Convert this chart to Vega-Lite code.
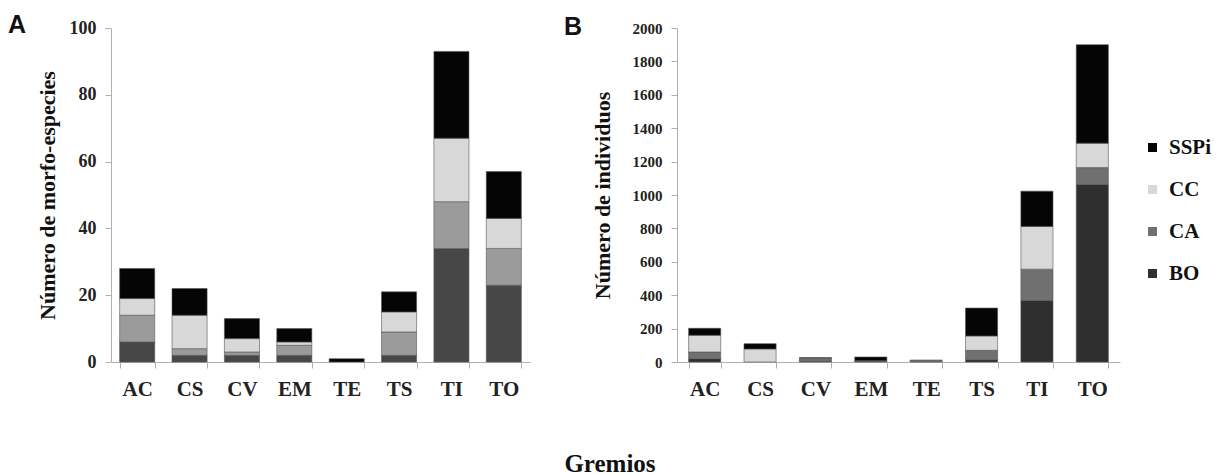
{
  "$schema": "https://vega.github.io/schema/vega-lite/v6.json",
  "background": "white",
  "padding": {"left": 8, "top": 13, "right": 5, "bottom": 5},
  "datasets": {
    "riqueza": [
      {"gremio": "AC", "grupo": "BO", "valor": 6}, {"gremio": "AC", "grupo": "CA", "valor": 8}, {"gremio": "AC", "grupo": "CC", "valor": 5}, {"gremio": "AC", "grupo": "SSPi", "valor": 9},
      {"gremio": "CS", "grupo": "BO", "valor": 2}, {"gremio": "CS", "grupo": "CA", "valor": 2}, {"gremio": "CS", "grupo": "CC", "valor": 10}, {"gremio": "CS", "grupo": "SSPi", "valor": 8},
      {"gremio": "CV", "grupo": "BO", "valor": 2}, {"gremio": "CV", "grupo": "CA", "valor": 1}, {"gremio": "CV", "grupo": "CC", "valor": 4}, {"gremio": "CV", "grupo": "SSPi", "valor": 6},
      {"gremio": "EM", "grupo": "BO", "valor": 2}, {"gremio": "EM", "grupo": "CA", "valor": 3}, {"gremio": "EM", "grupo": "CC", "valor": 1}, {"gremio": "EM", "grupo": "SSPi", "valor": 4},
      {"gremio": "TE", "grupo": "SSPi", "valor": 1},
      {"gremio": "TS", "grupo": "BO", "valor": 2}, {"gremio": "TS", "grupo": "CA", "valor": 7}, {"gremio": "TS", "grupo": "CC", "valor": 6}, {"gremio": "TS", "grupo": "SSPi", "valor": 6},
      {"gremio": "TI", "grupo": "BO", "valor": 34}, {"gremio": "TI", "grupo": "CA", "valor": 14}, {"gremio": "TI", "grupo": "CC", "valor": 19}, {"gremio": "TI", "grupo": "SSPi", "valor": 26},
      {"gremio": "TO", "grupo": "BO", "valor": 23}, {"gremio": "TO", "grupo": "CA", "valor": 11}, {"gremio": "TO", "grupo": "CC", "valor": 9}, {"gremio": "TO", "grupo": "SSPi", "valor": 14}
    ],
    "abundancia": [
      {"gremio": "AC", "grupo": "BO", "valor": 20}, {"gremio": "AC", "grupo": "CA", "valor": 40}, {"gremio": "AC", "grupo": "CC", "valor": 100}, {"gremio": "AC", "grupo": "SSPi", "valor": 42},
      {"gremio": "CS", "grupo": "CC", "valor": 78}, {"gremio": "CS", "grupo": "SSPi", "valor": 32},
      {"gremio": "CV", "grupo": "BO", "valor": 4}, {"gremio": "CV", "grupo": "CA", "valor": 20}, {"gremio": "CV", "grupo": "SSPi", "valor": 2},
      {"gremio": "EM", "grupo": "BO", "valor": 3}, {"gremio": "EM", "grupo": "CA", "valor": 5}, {"gremio": "EM", "grupo": "SSPi", "valor": 22},
      {"gremio": "TE", "grupo": "CA", "valor": 12},
      {"gremio": "TS", "grupo": "BO", "valor": 14}, {"gremio": "TS", "grupo": "CA", "valor": 56}, {"gremio": "TS", "grupo": "CC", "valor": 86}, {"gremio": "TS", "grupo": "SSPi", "valor": 167},
      {"gremio": "TI", "grupo": "BO", "valor": 369}, {"gremio": "TI", "grupo": "CA", "valor": 187}, {"gremio": "TI", "grupo": "CC", "valor": 256}, {"gremio": "TI", "grupo": "SSPi", "valor": 211},
      {"gremio": "TO", "grupo": "BO", "valor": 1063}, {"gremio": "TO", "grupo": "CA", "valor": 101}, {"gremio": "TO", "grupo": "CC", "valor": 146}, {"gremio": "TO", "grupo": "SSPi", "valor": 590}
    ]
  },
  "title": {
    "text": "Gremios",
    "orient": "bottom",
    "anchor": "middle",
    "font": "Liberation Serif",
    "fontSize": 25,
    "fontWeight": "bold",
    "color": "#111",
    "offset": 53
  },
  "hconcat": [
    {
      "data": {"name": "riqueza"},
      "width": 419,
      "height": 334,
      "title": {"text": "A", "anchor": "start", "frame": "bounds", "font": "Liberation Sans", "fontSize": 25, "fontWeight": "bold", "color": "#111", "baseline": "alphabetic", "offset": -14, "dx": -28, "dy": 25},
      "mark": {"type": "bar", "stroke": "#555", "strokeWidth": 0.6},
      "encoding": {
        "x": {
          "field": "gremio", "type": "nominal",
          "sort": ["AC", "CS", "CV", "EM", "TE", "TS", "TI", "TO"],
          "scale": {"paddingInner": 0.33, "paddingOuter": 0.165},
          "axis": {"title": null, "labelAngle": 0, "tickBand": "extent", "labelFontSize": 21, "labelPadding": 10, "tickSize": 6}
        },
        "y": {
          "field": "valor", "type": "quantitative", "aggregate": "sum", "stack": "zero",
          "scale": {"domain": [0, 100]},
          "axis": {"title": "Número de morfo-especies", "values": [0, 20, 40, 60, 80, 100], "format": "d", "labelFontSize": 18, "titleFontSize": 22, "titlePadding": 10}
        },
        "color": {
          "field": "grupo", "type": "nominal",
          "scale": {"domain": ["SSPi", "CC", "CA", "BO"], "range": ["#050505", "#d8d8d8", "#9b9b9b", "#474747"]},
          "legend": null
        },
        "order": {"field": "grupo", "sort": "ascending"}
      }
    },
    {
      "data": {"name": "abundancia"},
      "width": 443,
      "height": 334,
      "title": {"text": "B", "anchor": "start", "frame": "bounds", "font": "Liberation Sans", "fontSize": 25, "fontWeight": "bold", "color": "#111", "baseline": "alphabetic", "offset": -14, "dx": -27, "dy": 25},
      "mark": {"type": "bar", "stroke": "#555", "strokeWidth": 0.6},
      "encoding": {
        "x": {
          "field": "gremio", "type": "nominal",
          "sort": ["AC", "CS", "CV", "EM", "TE", "TS", "TI", "TO"],
          "scale": {"paddingInner": 0.42, "paddingOuter": 0.21},
          "axis": {"title": null, "labelAngle": 0, "tickBand": "extent", "labelFontSize": 21, "labelPadding": 10, "tickSize": 6}
        },
        "y": {
          "field": "valor", "type": "quantitative", "aggregate": "sum", "stack": "zero",
          "scale": {"domain": [0, 2000]},
          "axis": {"title": "Número de individuos", "values": [0, 200, 400, 600, 800, 1000, 1200, 1400, 1600, 1800, 2000], "format": "d", "labelFontSize": 15, "titleFontSize": 22, "titlePadding": 18}
        },
        "color": {
          "field": "grupo", "type": "nominal",
          "scale": {"domain": ["SSPi", "CC", "CA", "BO"], "range": ["#050505", "#d8d8d8", "#707070", "#2f2f2f"]},
          "legend": {
            "title": null, "orient": "none", "legendX": 465, "legendY": 109,
            "symbolType": "square", "symbolSize": 81, "symbolStrokeWidth": 0,
            "labelFont": "Liberation Serif", "labelFontSize": 21, "labelFontWeight": "bold", "labelColor": "#111",
            "labelOffset": 6, "rowPadding": 20
          }
        },
        "order": {"field": "grupo", "sort": "ascending"}
      }
    }
  ],
  "spacing": 34,
  "resolve": {"scale": {"color": "independent", "y": "independent", "x": "independent"}},
  "config": {
    "view": {"stroke": null},
    "axis": {
      "labelFont": "Liberation Serif", "labelFontWeight": "bold", "labelColor": "#222",
      "titleFont": "Liberation Serif", "titleFontWeight": "bold", "titleColor": "#111",
      "domainColor": "#b0b0b0", "tickColor": "#b0b0b0", "grid": false, "tickSize": 6, "labelPadding": 9
    }
  }
}
